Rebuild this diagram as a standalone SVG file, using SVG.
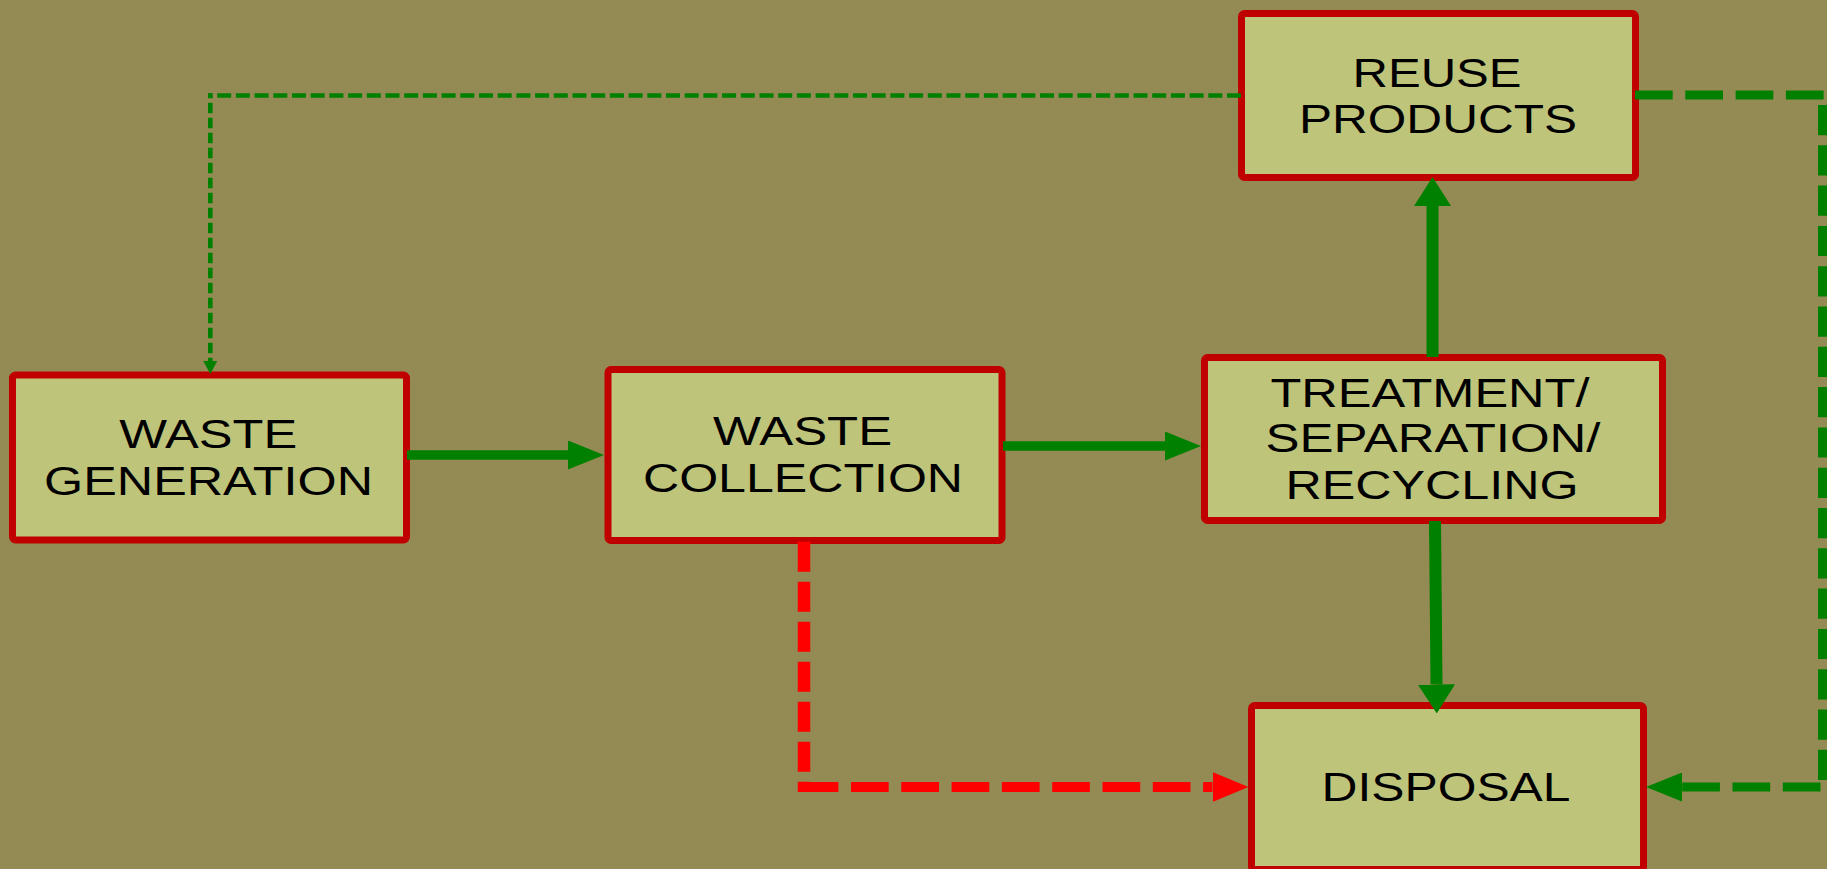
<svg xmlns="http://www.w3.org/2000/svg" width="1827" height="869" viewBox="0 0 1827 869">
  <style>
    .box { fill: #BFC47B; stroke: #C00000; stroke-width: 7; }
    .lbl { font-family: "Liberation Sans", Arial, sans-serif; font-size: 40px; fill: #000000; text-anchor: middle; }
    .solid { fill: none; stroke: #008000; stroke-linecap: butt; }
    .gdash { fill: none; stroke: #008000; stroke-linecap: butt; }
    .rdash { fill: none; stroke: #FF0000; stroke-linecap: butt; }
  </style>
  <defs>
    <marker id="arrowH" markerUnits="userSpaceOnUse" orient="auto" viewBox="0 0 36 29" markerWidth="36" markerHeight="29" refX="0" refY="14.5">
      <path d="M0,0 L36,14.5 L0,29 Z" fill="#008000"/>
    </marker>
    <marker id="arrowV" markerUnits="userSpaceOnUse" orient="auto" viewBox="0 0 29 37" markerWidth="29" markerHeight="37" refX="0" refY="18.5">
      <path d="M0,0 L29,18.5 L0,37 Z" fill="#008000"/>
    </marker>
    <marker id="arrowRed" markerUnits="userSpaceOnUse" orient="auto" viewBox="0 0 36 30" markerWidth="36" markerHeight="30" refX="0" refY="15">
      <path d="M0,0 L36,15 L0,30 Z" fill="#FF0000"/>
    </marker>
    <marker id="arrowSmall" markerUnits="userSpaceOnUse" orient="auto" viewBox="0 0 13 14" markerWidth="13" markerHeight="14" refX="0" refY="7">
      <path d="M0,0 L13,7 L0,14 Z" fill="#008000"/>
    </marker>
  </defs>

  <rect x="0" y="0" width="1827" height="869" fill="#948A54"/>

  <g id="reuse-products">
    <rect class="box" x="1241.5" y="13.5" width="394" height="164" rx="3"/>
    <text class="lbl" x="1437" y="87" textLength="169" lengthAdjust="spacingAndGlyphs">REUSE</text>
    <text class="lbl" x="1438" y="133" textLength="278" lengthAdjust="spacingAndGlyphs">PRODUCTS</text>
  </g>

  <g id="waste-generation">
    <rect class="box" x="12.5" y="375" width="394" height="165" rx="3"/>
    <text class="lbl" x="208.2" y="448" textLength="178" lengthAdjust="spacingAndGlyphs">WASTE</text>
    <text class="lbl" x="208.6" y="495" textLength="329" lengthAdjust="spacingAndGlyphs">GENERATION</text>
  </g>

  <g id="waste-collection">
    <rect class="box" x="608" y="369.5" width="394" height="171" rx="3"/>
    <text class="lbl" x="802.6" y="445" textLength="179" lengthAdjust="spacingAndGlyphs">WASTE</text>
    <text class="lbl" x="803" y="492" textLength="320" lengthAdjust="spacingAndGlyphs">COLLECTION</text>
  </g>

  <g id="treatment">
    <rect class="box" x="1204.5" y="357.5" width="458" height="163" rx="3"/>
    <text class="lbl" x="1430" y="407" textLength="319" lengthAdjust="spacingAndGlyphs">TREATMENT/</text>
    <text class="lbl" x="1433" y="452" textLength="335" lengthAdjust="spacingAndGlyphs">SEPARATION/</text>
    <text class="lbl" x="1432" y="499" textLength="293" lengthAdjust="spacingAndGlyphs">RECYCLING</text>
  </g>

  <g id="disposal">
    <rect class="box" x="1251.5" y="705.5" width="392" height="164" rx="3"/>
    <text class="lbl" x="1446" y="801" textLength="249" lengthAdjust="spacingAndGlyphs">DISPOSAL</text>
  </g>

  <g id="connectors">
    <!-- generation -> collection -->
    <path class="solid" d="M407,455 H568" stroke-width="9.5" marker-end="url(#arrowH)"/>
    <!-- collection -> treatment -->
    <path class="solid" d="M1003,446 H1165" stroke-width="9.5" marker-end="url(#arrowH)"/>
    <!-- treatment -> reuse -->
    <path class="solid" d="M1432.5,357 V206" stroke-width="12" marker-end="url(#arrowV)"/>
    <!-- treatment -> disposal -->
    <path class="solid" d="M1435,521 L1436.5,684.5" stroke-width="12" marker-end="url(#arrowV)"/>
    <!-- collection -> disposal (red dashed) -->
    <path class="rdash" d="M804,541.7 V792" stroke-width="12.5" stroke-dasharray="30 10"/>
    <path class="rdash" d="M800.7,787 H1212.5" stroke-width="10" stroke-dasharray="37.7 12.6" marker-end="url(#arrowRed)"/>
    <!-- reuse -> disposal (green dashed) -->
    <path class="gdash" d="M1635,95 H1823.6" stroke-width="9" stroke-dasharray="37.7 12.6"/>
    <path class="gdash" d="M1823,105 V782" stroke-width="10" stroke-dasharray="30.2 10.1"/>
    <path class="gdash" d="M1820.5,787 H1682" stroke-width="9" stroke-dasharray="37.7 12.6" marker-end="url(#arrowH)"/>
    <!-- reuse -> generation (thin dashed) -->
    <path class="gdash" d="M1241,95.5 H208" stroke-width="4.6" stroke-dasharray="14 4.7"/>
    <path class="gdash" d="M210.3,93.2 V361" stroke-width="4.6" stroke-dasharray="10.5 4.5" stroke-dashoffset="5.5" marker-end="url(#arrowSmall)"/>
  </g>
</svg>
